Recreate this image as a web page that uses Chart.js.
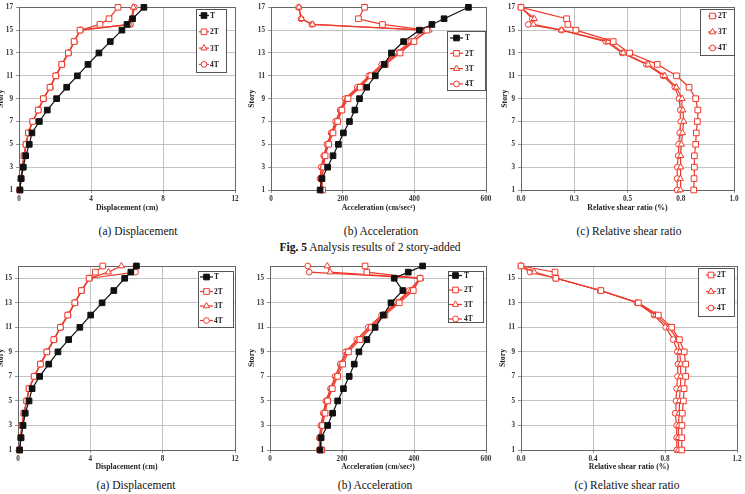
<!DOCTYPE html>
<html>
<head>
<meta charset="utf-8">
<script src="https://cdn.jsdelivr.net/npm/chart.js@4.4.1/dist/chart.umd.min.js"></script>
<style>
  body { margin: 0; background: #fff; width: 745px; height: 494px; overflow: hidden; position: relative;
         font-family: 'Liberation Serif', 'Times New Roman', serif; }
  canvas { position: absolute; }
  .cap { position: absolute; font-size: 11.5px; color: #111; white-space: nowrap; transform: translate(-50%, -50%); }
</style>
</head>
<body>
<canvas id="p1"></canvas>
<canvas id="p2"></canvas>
<canvas id="p3"></canvas>
<canvas id="p4"></canvas>
<canvas id="p5"></canvas>
<canvas id="p6"></canvas>
<div class="cap" style="left:138px;top:231px">(a) Displacement</div>
<div class="cap" style="left:381px;top:231px">(b) Acceleration</div>
<div class="cap" style="left:629px;top:231px">(c) Relative shear ratio</div>
<div class="cap" style="left:370px;top:247px"><b>Fig. 5</b> Analysis results of 2 story-added</div>
<div class="cap" style="left:136px;top:485px">(a) Displacement</div>
<div class="cap" style="left:375px;top:485px">(b) Acceleration</div>
<div class="cap" style="left:627px;top:485px">(c) Relative shear ratio</div>
<script>
// stories (15.5 = intermediate level)
const storiesTop = [1, 2, 3, 4, 5, 6, 7, 8, 9, 10, 11, 12, 13, 14, 15, 15.5, 16, 17];
const storiesBot = [1, 2, 3, 4, 5, 6, 7, 8, 9, 10, 11, 12, 13, 14, 15, 15.5, 16];

// tick labels
const yTicksTop = [1, 3, 5, 7, 9, 11, 13, 15, 17];
const yTicksBot = [1, 3, 5, 7, 9, 11, 13, 15];
const xTicksDisp = [0, 4, 8, 12];
const xTicksAcc = [0, 200, 400, 600];
const xTicksShearTop = [0, 0.25, 0.5, 0.75, 1];
const xTicksShearBot = [0, 0.4, 0.8, 1.2];

// Fig 5 (top row)
const dispT_a  = [0.05, 0.12, 0.24, 0.37, 0.57, 0.72, 1.13, 1.57, 2.09, 2.65, 3.24, 3.83, 4.44, 5.07, 5.72, 6.0, 6.31, 6.94];
const disp2T_a = [0.05, 0.11, 0.19, 0.28, 0.39, 0.52, 0.76, 1.07, 1.35, 1.72, 2.04, 2.37, 2.74, 3.06, 3.39, 4.5, 5.0, 5.5];
const disp3T_a = [0.05, 0.11, 0.19, 0.28, 0.39, 0.52, 0.76, 1.07, 1.36, 1.73, 2.05, 2.38, 2.75, 3.07, 3.40, 6.15, 6.25, 6.35];
const disp4T_a = [0.05, 0.11, 0.19, 0.28, 0.39, 0.52, 0.76, 1.08, 1.37, 1.74, 2.06, 2.39, 2.76, 3.08, 3.41, 6.2, 6.3, 6.4];

const accT_a  = [137, 142, 158, 173, 188, 202, 219, 234, 247, 267, 291, 316, 336, 370, 414, 449, 483, 551];
const acc2T_a = [144, 142, 147, 151, 161, 173, 186, 198, 215, 249, 279, 319, 360, 399, 435, 311, 244, 261];
const acc3T_a = [142, 140, 144, 149, 158, 170, 183, 195, 211, 245, 276, 314, 355, 395, 441, 116, 85, 78];
const acc4T_a = [140, 137, 140, 147, 156, 168, 180, 193, 207, 241, 273, 309, 349, 390, 425, 114, 84, 77];

const shear2T_a = [0.811, 0.8125, 0.814, 0.814, 0.82, 0.823, 0.828, 0.83, 0.82, 0.789, 0.73, 0.64, 0.51, 0.433, 0.258, 0.22, 0.214, 0];
const shear3T_a = [0.748, 0.748, 0.75, 0.75, 0.753, 0.758, 0.764, 0.76, 0.756, 0.73, 0.675, 0.597, 0.48, 0.41, 0.19, 0.058, 0.0625, 0];
const shear4T_a = [0.733, 0.733, 0.734, 0.738, 0.74, 0.745, 0.75, 0.748, 0.742, 0.722, 0.667, 0.589, 0.475, 0.398, 0.19, 0.034, 0.053, 0];

// bottom row
const dispT_b  = [0.09, 0.17, 0.28, 0.4, 0.61, 0.78, 1.2, 1.7, 2.21, 2.8, 3.42, 4.02, 4.65, 5.3, 5.9, 6.24, 6.55];
const disp2T_b = [0.09, 0.15, 0.22, 0.33, 0.48, 0.61, 0.89, 1.24, 1.59, 1.98, 2.34, 2.75, 3.14, 3.5, 3.93, 4.28, 4.69];
const disp3T_b = [0.09, 0.15, 0.22, 0.33, 0.48, 0.61, 0.9, 1.25, 1.6, 1.99, 2.35, 2.76, 3.15, 3.52, 3.95, 5.0, 5.72];
const disp4T_b = [0.09, 0.15, 0.22, 0.33, 0.48, 0.62, 0.9, 1.25, 1.61, 2.0, 2.36, 2.77, 3.16, 3.53, 3.97, 6.5, 6.52];

const accT_b  = [139, 142, 160, 174, 188, 204, 220, 234, 247, 269, 292, 315, 336, 369, 345, 384, 424];
const acc2T_b = [144, 141, 146, 153, 160, 173, 188, 202, 218, 250, 282, 319, 359, 398, 417, 269, 264];
const acc3T_b = [141, 139, 143, 150, 157, 170, 184, 198, 214, 245, 277, 314, 354, 391, 419, 167, 159];
const acc4T_b = [137, 137, 141, 148, 155, 168, 181, 195, 210, 241, 273, 310, 350, 387, 416, 109, 105];

const shear2T_b = [0.893, 0.893, 0.894, 0.896, 0.902, 0.906, 0.915, 0.915, 0.907, 0.88, 0.837, 0.763, 0.652, 0.444, 0.194, 0.189, 0];
const shear3T_b = [0.874, 0.874, 0.876, 0.878, 0.88, 0.884, 0.887, 0.887, 0.882, 0.87, 0.822, 0.748, 0.648, 0.44, 0.194, 0.074, 0];
const shear4T_b = [0.865, 0.865, 0.865, 0.856, 0.861, 0.865, 0.87, 0.872, 0.869, 0.846, 0.804, 0.739, 0.643, 0.44, 0.194, 0.05, 0];

const RED = '#ee3a2c';
const BLACK = '#111';
const SERIF = "'Liberation Serif', 'Times New Roman', serif";

const styles = {
    'T':  { color: BLACK, fill: BLACK, point: 'rect', r: 4 },
    '2T': { color: RED, fill: '#fff', point: 'rect', r: 4 },
    '3T': { color: RED, fill: '#fff', point: 'triangle', r: 3.6 },
    '4T': { color: RED, fill: '#fff', point: 'circle', r: 2.9 }
};

function series(label, xs, ys) {
    const s = styles[label];
    return {
        label,
        data: xs.map((v, i) => ({ x: v, y: ys[i] })),
        borderColor: s.color,
        borderWidth: 1.2,
        pointStyle: s.point,
        pointRadius: s.r,
        pointBorderWidth: 1,
        pointBorderColor: s.color,
        pointBackgroundColor: s.fill,
        tension: 0,
        clip: false
    };
}

// frame around the plot area
const framePlugin = {
    id: 'frame',
    beforeDatasetsDraw(chart) {
        const a = chart.chartArea, ctx = chart.ctx;
        ctx.save();
        ctx.strokeStyle = '#666';
        ctx.lineWidth = 1;
        ctx.strokeRect(Math.round(a.left) + 0.5, Math.round(a.top) + 0.5, Math.round(a.right - a.left), Math.round(a.bottom - a.top));
        ctx.restore();
    }
};

function marker(ctx, kind, x, y, r) {
    ctx.beginPath();
    if (kind === 'rect') {
        const h = r * Math.SQRT1_2;
        ctx.rect(x - h, y - h, 2 * h, 2 * h);
    } else if (kind === 'triangle') {
        let a = 0;
        ctx.moveTo(x + Math.sin(a) * r, y - Math.cos(a) * r);
        a += 2 * Math.PI / 3;
        ctx.lineTo(x + Math.sin(a) * r, y - Math.cos(a) * r);
        a += 2 * Math.PI / 3;
        ctx.lineTo(x + Math.sin(a) * r, y - Math.cos(a) * r);
        ctx.closePath();
    } else {
        ctx.arc(x, y, r, 0, Math.PI * 2);
    }
}

// boxed legend drawn inside the plot
const boxLegend = {
    id: 'boxLegend',
    afterDraw(chart, args, o) {
        const ctx = chart.ctx;
        const ox = chart.canvas.offsetLeft, oy = chart.canvas.offsetTop;
        const bx = o.x - ox, by = o.y - oy;
        ctx.save();
        ctx.fillStyle = '#fff';
        ctx.fillRect(bx, by, o.w, o.h);
        ctx.strokeStyle = '#555';
        ctx.lineWidth = 1;
        ctx.strokeRect(Math.round(bx) + 0.5, Math.round(by) + 0.5, o.w, o.h);
        chart.data.datasets.forEach((ds, i) => {
            const y = by + o.y0 + i * o.dy;
            const x1 = bx + o.lx, x2 = x1 + o.ll;
            ctx.strokeStyle = ds.borderColor;
            ctx.lineWidth = 1.2;
            ctx.beginPath();
            ctx.moveTo(x1, y);
            ctx.lineTo(x2, y);
            ctx.stroke();
            ctx.lineWidth = 1;
            marker(ctx, ds.pointStyle, (x1 + x2) / 2, y, ds.pointRadius);
            ctx.fillStyle = ds.pointBackgroundColor;
            ctx.fill();
            ctx.stroke();
            ctx.fillStyle = '#222';
            ctx.font = 'bold 7.5px ' + SERIF;
            ctx.textBaseline = 'middle';
            ctx.fillText(ds.label, bx + o.tx, y + 0.5);
        });
        ctx.restore();
    }
};

const tickFont = { family: SERIF, size: 7.2, weight: 'bold' };
const titleFont = { family: SERIF, size: 7.8, weight: 'bold' };

function makeChart(p) {
    const canvas = document.getElementById(p.id);
    const [L, T, W, H] = p.box;
    const [al, at, ar, ab] = p.area;
    canvas.width = W;
    canvas.height = H;
    canvas.style.left = L + 'px';
    canvas.style.top = T + 'px';
    canvas.style.width = W + 'px';
    canvas.style.height = H + 'px';

    const grid = { color: '#b4b4b4', lineWidth: 0.8, tickLength: 3, tickColor: '#777' };

    return new Chart(canvas, {
        type: 'line',
        data: { datasets: p.datasets },
        plugins: [framePlugin, boxLegend],
        options: {
            responsive: false,
            animation: false,
            devicePixelRatio: 1,
            layout: { padding: { left: 0, bottom: 0, top: at - T, right: L + W - ar } },
            plugins: {
                legend: { display: false },
                tooltip: { enabled: false },
                boxLegend: p.legend
            },
            scales: {
                x: {
                    type: 'linear',
                    min: p.xTicks[0],
                    max: p.xTicks[p.xTicks.length - 1],
                    afterBuildTicks: s => { s.ticks = p.xTicks.map(v => ({ value: v })); },
                    afterFit: s => { s.height = T + H - ab; },
                    ticks: { font: tickFont, color: '#333', padding: 2, maxRotation: 0, autoSkip: false, callback: p.xFmt },
                    grid,
                    border: { display: false },
                    title: { display: true, text: p.xTitle, font: titleFont, color: '#222', padding: { top: 0, bottom: 2.3 } }
                },
                y: {
                    type: 'linear',
                    min: 1,
                    max: p.yMax,
                    afterBuildTicks: s => { s.ticks = p.yTicks.map(v => ({ value: v })); },
                    afterFit: s => { s.width = al - L; },
                    ticks: { font: tickFont, color: '#333', padding: 3, autoSkip: false },
                    grid,
                    border: { display: false },
                    title: { display: true, text: 'Story', font: titleFont, color: '#222', padding: { top: 0, bottom: 0 } }
                }
            }
        }
    });
}

const fmtInt = v => String(v);
const fmt1 = v => v.toFixed(1);

const panels = [
    {
        id: 'p1', box: [-4, 0, 249, 215], area: [19, 7, 235, 190], yMax: 17, yTicks: yTicksTop,
        xTicks: xTicksDisp, xFmt: fmtInt, xTitle: 'Displacement (cm)',
        datasets: [series('T', dispT_a, storiesTop), series('2T', disp2T_a, storiesTop),
                   series('3T', disp3T_a, storiesTop), series('4T', disp4T_a, storiesTop)],
        legend: { x: 196, y: 9, w: 30, h: 63, y0: 6.5, dy: 16.3, lx: 3, ll: 10, tx: 14 }
    },
    {
        id: 'p2', box: [247, 0, 249, 215], area: [271, 7, 486, 190], yMax: 17, yTicks: yTicksTop,
        xTicks: xTicksAcc, xFmt: fmtInt, xTitle: 'Acceleration (cm/sec²)',
        datasets: [series('T', accT_a, storiesTop), series('2T', acc2T_a, storiesTop),
                   series('3T', acc3T_a, storiesTop), series('4T', acc4T_a, storiesTop)],
        legend: { x: 447, y: 31, w: 38, h: 59, y0: 7, dy: 15.3, lx: 3, ll: 13, tx: 18 }
    },
    {
        id: 'p3', box: [500, 0, 245, 215], area: [521, 7, 734, 190], yMax: 17, yTicks: yTicksTop,
        xTicks: xTicksShearTop, xFmt: fmt1, xTitle: 'Relative shear ratio (%)',
        datasets: [series('2T', shear2T_a, storiesTop), series('3T', shear3T_a, storiesTop),
                   series('4T', shear4T_a, storiesTop)],
        legend: { x: 700, y: 9, w: 34, h: 46, y0: 7, dy: 16, lx: 8, ll: 9, tx: 18 }
    },
    {
        id: 'p4', box: [-4, 256, 249, 218], area: [18, 266, 235, 450], yMax: 16, yTicks: yTicksBot,
        xTicks: xTicksDisp, xFmt: fmtInt, xTitle: 'Displacement (cm)',
        datasets: [series('T', dispT_b, storiesBot), series('2T', disp2T_b, storiesBot),
                   series('3T', disp3T_b, storiesBot), series('4T', disp4T_b, storiesBot)],
        legend: { x: 198, y: 271, w: 35, h: 56, y0: 6, dy: 14.5, lx: 2, ll: 13, tx: 16 }
    },
    {
        id: 'p5', box: [247, 256, 249, 218], area: [270, 266, 486, 450], yMax: 16, yTicks: yTicksBot,
        xTicks: xTicksAcc, xFmt: fmtInt, xTitle: 'Acceleration (cm/sec²)',
        datasets: [series('T', accT_b, storiesBot), series('2T', acc2T_b, storiesBot),
                   series('3T', acc3T_b, storiesBot), series('4T', acc4T_b, storiesBot)],
        legend: { x: 448, y: 271, w: 35, h: 51, y0: 4.5, dy: 14.5, lx: 1, ll: 13, tx: 16 }
    },
    {
        id: 'p6', box: [498, 256, 247, 218], area: [521, 266, 737, 450], yMax: 16, yTicks: yTicksBot,
        xTicks: xTicksShearBot, xFmt: fmt1, xTitle: 'Relative shear ratio (%)',
        datasets: [series('2T', shear2T_b, storiesBot), series('3T', shear3T_b, storiesBot),
                   series('4T', shear4T_b, storiesBot)],
        legend: { x: 698, y: 268, w: 36, h: 48, y0: 7, dy: 16.5, lx: 8, ll: 10, tx: 19 }
    }
];

panels.forEach(makeChart);
</script>
</body>
</html>
